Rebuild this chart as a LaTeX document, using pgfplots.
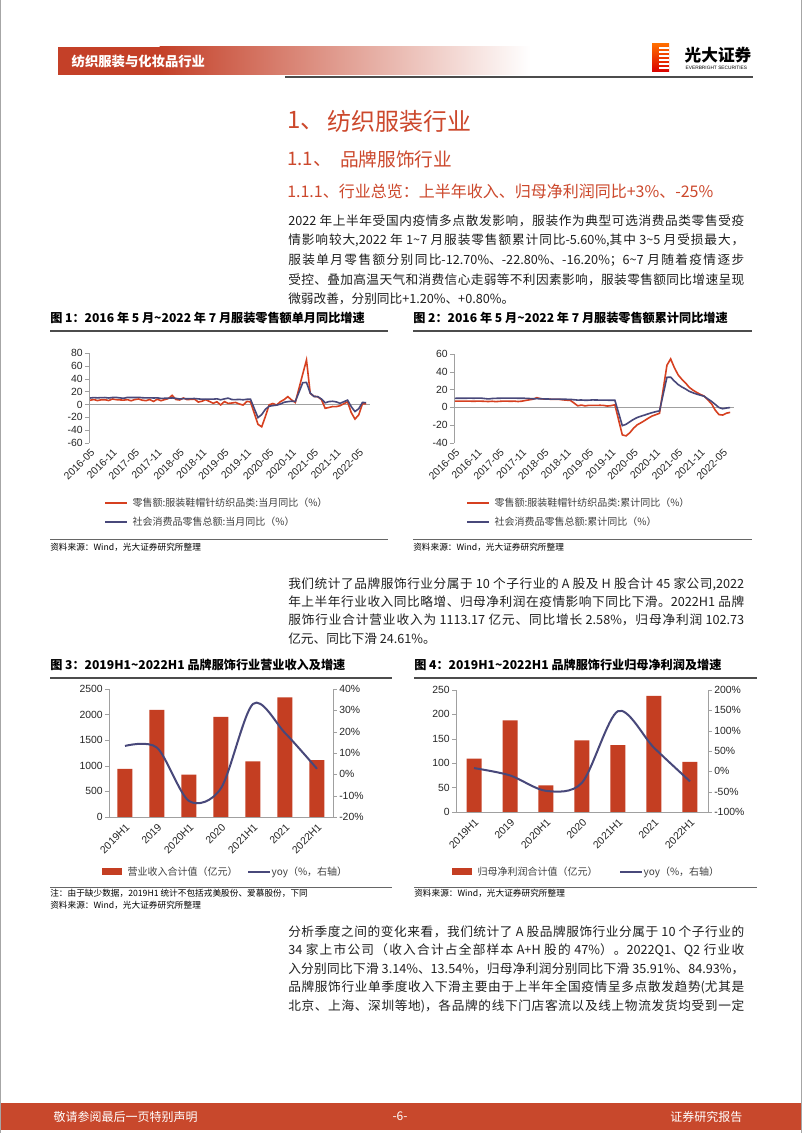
\documentclass[border=0pt]{standalone}
\usepackage{fontspec}
\setmainfont{Noto Sans CJK SC}
\newfontfamily\arial{Liberation Sans}
\usepackage{pgfplots}
\pgfplotsset{compat=1.18}
\XeTeXinterchartokenstate=1
\newXeTeXintercharclass\cjkcls
\makeatletter
\count@="3000 \loop \XeTeXcharclass\count@=\cjkcls \ifnum\count@<"303F \advance\count@ 1 \repeat
\count@="4E00 \loop \XeTeXcharclass\count@=\cjkcls \ifnum\count@<"9FFF \advance\count@ 1 \repeat
\count@="FF00 \loop \XeTeXcharclass\count@=\cjkcls \ifnum\count@<"FFEF \advance\count@ 1 \repeat
\makeatother
\XeTeXinterchartoks\cjkcls\cjkcls={\hskip0pt plus 2pt\relax}
\definecolor{hdr}{RGB}{196,64,40}
\definecolor{ttl}{RGB}{204,72,44}
\definecolor{barred}{RGB}{196,62,34}
\definecolor{lred}{RGB}{214,64,32}
\definecolor{lblue}{RGB}{72,72,122}
\definecolor{axgray}{RGB}{160,160,160}
\definecolor{ftr}{RGB}{200,72,44}
\newcommand\tld{\textasciitilde}
\newcommand\bodyf{\fontsize{9.5}{11}\selectfont}
\newcommand\lgdf{\fontsize{7.5}{9}\selectfont}
\newcommand\capf{\fontsize{9.1}{11}\selectfont\bfseries}
\newcommand\srcf{\fontsize{6.5}{8}\selectfont}
\newcommand\pline[2]{\node[anchor=west,inner sep=0pt,text=black!88,font=\bodyf] at (288,#1) {\hbox to 342pt{#2}};}
\pgfplotsset{
  common/.style={scale only axis, anchor=south west,
    axis line style={axgray}, tick align=outside, major tick length=3pt,
    ytick style={axgray}, xtick style={draw=none},
    tick label style={font=\fontsize{7.8}{9}\arial, text=black!85},
    /pgf/number format/assume math mode=true,
    /pgf/number format/1000 sep={},
    yticklabel style={inner sep=1.5pt}},
  monthly/.style={common, xmin=-0.3, xmax=75,
    axis y line*=left, axis x line*=bottom, x axis line style={draw=none},
    xtick={0,6,...,72},
    xticklabels={2016-05,2016-11,2017-05,2017-11,2018-05,2018-11,2019-05,2019-11,2020-05,2020-11,2021-05,2021-11,2022-05},
    xticklabel style={rotate=45, anchor=north east, inner sep=0.5pt}},
  halfyear/.style={common, xmin=-0.5, xmax=6.5,
    xtick={0,...,6},
    xticklabels={2019H1,2019,2020H1,2020,2021H1,2021,2022H1},
    xticklabel style={rotate=45, anchor=north east, inner sep=1pt}}
}
\begin{document}
\begin{tikzpicture}[x=0.75pt,y=0.75pt]
\useasboundingbox (0,0) rectangle (802,1133);
\fill[white] (0,0) rectangle (802,1133);
\draw[black!35, line width=1] (0.5,0) -- (0.5,1133);
\draw[black!35, line width=1] (801.5,0) -- (801.5,1133);
% header
\fill[hdr] (58,1058) rectangle (160,1086);
\shade[left color=hdr, right color=white] (159.5,1058) rectangle (530,1086);
\node[anchor=west, text=white, font=\fontsize{10}{12}\selectfont\bfseries] at (67,1072) {纺织服装与化妆品行业};
\draw[black!70, line width=2] (285,1056) -- (753,1056);
\shade[top color=orange!85!red, bottom color=red!85!black] (652,1061) rectangle (669,1089);
\foreach \yy in {1065,1069,1073,1077,1081,1085} \draw[white, line width=1.2] (659,\yy) -- (669,\yy);
\node[anchor=west, font=\fontsize{12.5}{14}\selectfont\bfseries] at (680,1078) {光大证券};
\node[anchor=west, font=\fontsize{3.6}{4}\arial] at (681,1065) {EVERBRIGHT SECURITIES};
% titles
\node[anchor=west, inner sep=0, text=ttl, font=\fontsize{18}{21}\selectfont] at (287,1012) {1、};
\node[anchor=west, inner sep=0, text=ttl, font=\fontsize{18}{21}\selectfont] at (327,1012) {纺织服装行业};
\node[anchor=west, inner sep=0, text=ttl, font=\fontsize{14}{16}\selectfont] at (287,974) {1.1、};
\node[anchor=west, inner sep=0, text=ttl, font=\fontsize{14}{16}\selectfont] at (340,974) {品牌服饰行业};
\node[anchor=west, inner sep=0, text=ttl, font=\fontsize{12}{15}\selectfont] at (287,942) {1.1.1、行业总览：上半年收入、归母净利润同比+3\%、-25\%};
% paragraph 1
\pline{912}{2022 年上半年受国内疫情多点散发影响，服装作为典型可选消费品类零售受疫}
\pline{892.5}{情影响较大,2022 年 1\tld7 月服装零售额累计同比-5.60\%,其中 3\tld5 月受损最大，}
\pline{873}{服装单月零售额分别同比-12.70\%、-22.80\%、-16.20\%；6\tld7 月随着疫情逐步}
\pline{853.5}{受控、叠加高温天气和消费信心走弱等不利因素影响，服装零售额同比增速呈现}
\node[anchor=west,inner sep=0pt,text=black!88,font=\bodyf] at (288,834) {微弱改善，分别同比+1.20\%、+0.80\%。};
% captions 1/2
\node[anchor=west, inner sep=0, font=\capf] at (50,815) {图 1：2016 年 5 月\tld2022 年 7 月服装零售额单月同比增速};
\node[anchor=west, inner sep=0, font=\capf] at (413,815) {图 2：2016 年 5 月\tld2022 年 7 月服装零售额累计同比增速};
\draw[black!70, line width=0.8] (50,802) -- (388,802);
\draw[black!70, line width=0.8] (413,802) -- (752,802);
% chart 1
\begin{axis}[monthly, at={(66.7pt,517.5pt)}, width=210.75pt, height=67.5pt,
  ymin=-60, ymax=80, ytick={-60,-40,...,80}]
\addplot[axgray, line width=0.6pt, forget plot] coordinates {(-0.3,0) (75,0)};
\addplot[lred, line width=1.2pt] coordinates {(0,6.5) (1,7.6) (2,6.0) (3,7.2) (4,7.3) (5,6.1) (6,8.4) (7,7.4) (9,6.6) (10,7.5) (11,5.7) (12,7.6) (13,8.4) (14,6.6) (15,5.9) (16,7.6) (17,4.6) (18,8.1) (19,5.8) (21,9.2) (22,14.1) (23,7.7) (24,6.9) (25,10.0) (26,7.4) (27,7.9) (28,8.2) (29,3.7) (30,5.0) (31,7.4) (33,1.8) (34,4.1) (35,-0.8) (36,4.4) (37,1.6) (38,2.2) (39,3.1) (40,0.7) (41,-1.0) (42,4.7) (43,4.0) (45,-30.9) (46,-34.8) (47,-18.5) (48,-0.6) (49,1.4) (50,-1.0) (51,4.2) (52,7.5) (53,12.1) (54,7.0) (55,3.0) (57,47.4) (58,69.1) (59,17.3) (60,12.5) (61,12.0) (62,7.5) (63,-6.0) (64,-4.8) (65,-3.3) (66,-3.4) (67,-2.0) (69,4.1) (70,-12.7) (71,-22.8) (72,-16.2) (73,1.2) (74,0.8)};
\addplot[lblue, line width=1.2pt] coordinates {(0,10.0) (1,10.6) (2,10.2) (3,10.6) (4,10.7) (5,10.0) (6,10.8) (7,10.9) (9,9.5) (10,10.9) (11,10.7) (12,10.7) (13,11.0) (14,10.4) (15,10.1) (16,10.3) (17,10.0) (18,10.2) (19,9.4) (21,9.7) (22,10.1) (23,9.4) (24,8.5) (25,9.0) (26,8.8) (27,9.0) (28,9.2) (29,8.6) (30,8.1) (31,8.2) (33,8.2) (34,8.7) (35,7.2) (36,8.6) (37,9.8) (38,7.6) (39,7.5) (40,7.8) (41,7.2) (42,8.0) (43,8.0) (45,-20.5) (46,-15.8) (47,-7.5) (48,-2.8) (49,-1.8) (50,-1.1) (51,0.5) (52,3.3) (53,4.3) (54,5.0) (55,4.6) (57,33.8) (58,34.2) (59,17.7) (60,12.4) (61,12.1) (62,8.5) (63,2.5) (64,4.4) (65,4.9) (66,3.9) (67,1.7) (69,6.7) (70,-3.5) (71,-11.1) (72,-6.7) (73,3.1) (74,2.7)};
\end{axis}
% chart 2
\begin{axis}[monthly, at={(340.4pt,517.5pt)}, width=210pt, height=66.75pt,
  ymin=-40, ymax=60, ytick={-40,-20,...,60}]
\addplot[axgray, line width=0.6pt, forget plot] coordinates {(-0.3,0) (75,0)};
\addplot[lred, line width=1.2pt] coordinates {(0,7.0) (1,7.1) (2,7.0) (3,7.0) (4,7.0) (5,6.9) (6,7.0) (7,7.0) (9,6.6) (10,6.9) (11,6.5) (12,6.8) (13,7.1) (14,7.0) (15,6.9) (16,7.0) (17,6.6) (18,7.0) (19,7.8) (21,9.2) (22,10.9) (23,9.8) (24,9.3) (25,9.4) (26,9.0) (27,9.0) (28,9.0) (29,8.5) (30,8.1) (31,8.0) (33,1.8) (34,2.6) (35,1.7) (36,2.3) (37,2.2) (38,2.2) (39,2.4) (40,2.2) (41,1.5) (42,2.0) (43,2.9) (45,-30.9) (46,-32.0) (47,-28.6) (48,-23.5) (49,-19.6) (50,-17.3) (51,-14.8) (52,-12.1) (53,-9.7) (54,-8.2) (55,-6.6) (57,47.4) (58,54.5) (59,44.6) (60,36.6) (61,31.6) (62,27.5) (63,22.5) (64,19.4) (65,16.8) (66,14.6) (67,12.7) (69,4.1) (70,-3.2) (71,-8.1) (72,-8.6) (73,-6.5) (74,-5.6)};
\addplot[lblue, line width=1.2pt] coordinates {(0,10.2) (1,10.3) (2,10.3) (3,10.3) (4,10.4) (5,10.3) (6,10.4) (7,10.4) (9,9.5) (10,10.0) (11,10.2) (12,10.3) (13,10.4) (14,10.4) (15,10.4) (16,10.4) (17,10.3) (18,10.3) (19,10.2) (21,9.7) (22,9.8) (23,9.7) (24,9.5) (25,9.4) (26,9.3) (27,9.3) (28,9.3) (29,9.2) (30,9.1) (31,9.0) (33,8.2) (34,8.3) (35,8.0) (36,8.1) (37,8.4) (38,8.3) (39,8.2) (40,8.2) (41,8.1) (42,8.0) (43,8.0) (45,-20.5) (46,-19.0) (47,-16.2) (48,-13.5) (49,-11.4) (50,-9.9) (51,-8.6) (52,-7.2) (53,-5.9) (54,-4.8) (55,-3.9) (57,33.8) (58,33.9) (59,29.6) (60,25.7) (61,23.0) (62,20.7) (63,18.1) (64,16.4) (65,14.9) (66,13.7) (67,12.5) (69,6.7) (70,3.3) (71,-0.2) (72,-1.5) (73,-0.7) (74,-0.2)};
\end{axis}
% legends 1/2
\draw[lred, line width=1.2pt] (105,630) -- (127,630);
\node[anchor=west, font=\lgdf, text=black!75] at (128,630) {零售额:服装鞋帽针纺织品类:当月同比（\%）};
\draw[lblue, line width=1.2pt] (105,611) -- (127,611);
\node[anchor=west, font=\lgdf, text=black!75] at (128,611) {社会消费品零售总额:当月同比（\%）};
\draw[lred, line width=1.2pt] (467,630) -- (489,630);
\node[anchor=west, font=\lgdf, text=black!75] at (490,630) {零售额:服装鞋帽针纺织品类:累计同比（\%）};
\draw[lblue, line width=1.2pt] (467,611) -- (489,611);
\node[anchor=west, font=\lgdf, text=black!75] at (490,611) {社会消费品零售总额:累计同比（\%）};
\draw[black!60, line width=0.6] (50,594) -- (388,594);
\draw[black!60, line width=0.6] (413,594) -- (752,594);
\node[anchor=west, inner sep=0, font=\srcf] at (50,586) {资料来源：Wind，光大证券研究所整理};
\node[anchor=west, inner sep=0, font=\srcf] at (413,586) {资料来源：Wind，光大证券研究所整理};
% paragraph 2
\pline{549}{我们统计了品牌服饰行业分属于 10 个子行业的 A 股及 H 股合计 45 家公司,2022}
\pline{531}{年上半年行业收入同比略增、归母净利润在疫情影响下同比下滑。2022H1 品牌}
\pline{513}{服饰行业合计营业收入为 1113.17 亿元、同比增长 2.58\%，归母净利润 102.73}
\node[anchor=west,inner sep=0pt,text=black!88,font=\bodyf] at (288,494.5) {亿元、同比下滑 24.61\%。};
% captions 3/4
\node[anchor=west, inner sep=0, font=\capf] at (50,468) {图 3：2019H1\tld2022H1 品牌服饰行业营业收入及增速};
\node[anchor=west, inner sep=0, font=\capf] at (414,468) {图 4：2019H1\tld2022H1 品牌服饰行业归母净利润及增速};
\draw[black!70, line width=0.8] (50,455) -- (392,455);
\draw[black!70, line width=0.8] (414,455) -- (757,455);
% chart 3
\begin{axis}[halfyear, at={(81.75pt,237pt)}, width=168pt, height=96pt,
  axis y line*=left, axis x line*=bottom,
  ymin=0, ymax=2500, ytick={0,500,...,2500}, ybar, bar width=11.25pt]
\addplot[fill=barred, draw=none] coordinates {(0,940) (1,2090) (2,830) (3,1955) (4,1085) (5,2335) (6,1113.17)};
\end{axis}
\begin{axis}[common, at={(81.75pt,237pt)}, width=168pt, height=96pt,
  xmin=-0.5, xmax=6.5, axis y line*=right, axis x line=none,
  ymin=-20, ymax=40, ytick={-20,-10,...,40},
  yticklabel={\pgfmathprintnumber{\tick}\%}]
\addplot[lblue, line width=1.5pt, smooth] coordinates {(0,13.3) (1,12.5) (2,-12.5) (3,-6.5) (4,33) (5,19.4) (6,2.6)};
\end{axis}
% chart 4
\begin{axis}[halfyear, at={(342pt,240.75pt)}, width=189pt, height=91.5pt,
  axis y line*=left, axis x line*=bottom,
  ymin=0, ymax=250, ytick={0,50,...,250}, ybar, bar width=11.25pt]
\addplot[fill=barred, draw=none] coordinates {(0,109.6) (1,187.7) (2,54.8) (3,146.6) (4,137) (5,238) (6,102.73)};
\end{axis}
\begin{axis}[common, at={(342pt,240.75pt)}, width=189pt, height=91.5pt,
  xmin=-0.5, xmax=6.5, axis y line*=right, axis x line=none,
  ymin=-100, ymax=200, ytick={-100,-50,...,200},
  yticklabel={\pgfmathprintnumber{\tick}\%}]
\addplot[lblue, line width=1.5pt, smooth] coordinates {(0,8) (1,-10) (2,-48) (3,-28) (4,148) (5,58) (6,-24.6)};
\end{axis}
% legends 3/4
\fill[barred] (102,257.5) rectangle (122,264.5);
\node[anchor=west, font=\lgdf, text=black!75] at (123,261) {营业收入合计值（亿元）};
\draw[lblue, line width=1.5pt] (248,261) -- (270,261);
\node[anchor=west, font=\lgdf, text=black!75, inner xsep=1pt] at (270,261) {yoy（\%，右轴）};
\fill[barred] (452,257.5) rectangle (472,264.5);
\node[anchor=west, font=\lgdf, text=black!75] at (473,261) {归母净利润合计值（亿元）};
\draw[lblue, line width=1.5pt] (620,261) -- (642,261);
\node[anchor=west, font=\lgdf, text=black!75, inner xsep=1pt] at (642,261) {yoy（\%，右轴）};
\draw[black!60, line width=0.6] (50,246) -- (392,246);
\draw[black!60, line width=0.6] (414,246) -- (757,246);
\node[anchor=west, inner sep=0, font=\srcf] at (50,239.5) {注：由于缺少数据，2019H1 统计不包括戎美股份、爱慕股份，下同};
\node[anchor=west, inner sep=0, font=\srcf] at (50,228) {资料来源：Wind，光大证券研究所整理};
\node[anchor=west, inner sep=0, font=\srcf] at (414,239.5) {资料来源：Wind，光大证券研究所整理};
% paragraph 3
\pline{201}{分析季度之间的变化来看，我们统计了 A 股品牌服饰行业分属于 10 个子行业的}
\pline{182.5}{34 家上市公司（收入合计占全部样本 A+H 股的 47\%）。2022Q1、Q2 行业收}
\pline{164}{入分别同比下滑 3.14\%、13.54\%，归母净利润分别同比下滑 35.91\%、84.93\%，}
\pline{145.5}{品牌服饰行业单季度收入下滑主要由于上半年全国疫情呈多点散发趋势(尤其是}
\pline{127}{北京、上海、深圳等地)，各品牌的线下门店客流以及线上物流发货均受到一定}
% footer
\fill[ftr] (1,3) rectangle (801,30);
\node[anchor=west, text=white, font=\fontsize{9}{11}\selectfont] at (49,16.5) {敬请参阅最后一页特别声明};
\node[text=white, font=\fontsize{9}{11}\selectfont] at (400,16.5) {-6-};
\node[anchor=east, text=white, font=\fontsize{9}{11}\selectfont] at (747,16.5) {证券研究报告};
\end{tikzpicture}
\end{document}
